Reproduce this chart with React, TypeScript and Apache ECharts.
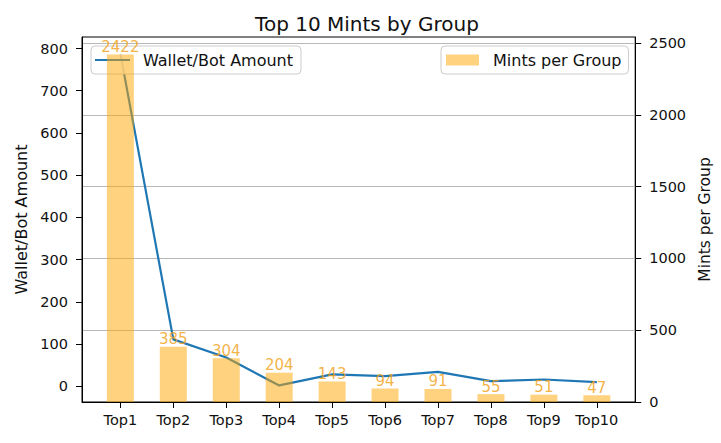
import React, { useEffect, useRef } from "react";
import * as echarts from "echarts";

const categories = ["Top1", "Top2", "Top3", "Top4", "Top5", "Top6", "Top7", "Top8", "Top9", "Top10"];
const walletBotAmount = [788, 111, 68, 2, 28, 24, 34, 12, 16, 10];
const mintsPerGroup = [2422, 385, 304, 204, 143, 94, 91, 55, 51, 47];
const leftTicks = [0, 100, 200, 300, 400, 500, 600, 700, 800];
const rightTicks = [0, 500, 1000, 1500, 2000, 2500];

const FONT = "DejaVu Sans";

export default function App() {
  const ref = useRef<HTMLDivElement>(null);
  useEffect(() => {
    if (!ref.current) return;
    const chart = echarts.init(ref.current, null, { renderer: "svg" });
    const lMin = Math.min(...walletBotAmount);
    const lMax = Math.max(...walletBotAmount);
    const lPad = (lMax - lMin) * 0.05;
    const rMax = Math.max(...mintsPerGroup) * 1.05;
    const xIdx = categories.map((_, i) => i);
    chart.setOption({
      animation: false,
      backgroundColor: "#ffffff",
      textStyle: { fontFamily: FONT },
      title: {
        text: "Top 10 Mints by Group",
        left: 362,
        textAlign: "center",
        top: 9,
        textStyle: { fontFamily: FONT, fontSize: 20, fontWeight: "normal", color: "#111" },
      },
      legend: [
        {
          data: ["Wallet/Bot Amount"],
          left: 91,
          top: 46,
          orient: "vertical",
          icon: "rect",
          itemWidth: 35,
          itemHeight: 2,
          padding: [6, 8, 6, 4],
          backgroundColor: "rgba(255,255,255,0.8)",
          borderColor: "#cccccc",
          borderWidth: 1,
          borderRadius: 4,
          z: 3,
          selectedMode: false,
          textStyle: { fontFamily: FONT, fontSize: 16, color: "#111", padding: [0, 0, 0, 8] },
        },
        {
          data: ["Mints per Group"],
          left: 441,
          top: 46,
          orient: "vertical",
          icon: "rect",
          itemWidth: 33,
          itemHeight: 11,
          padding: [6, 7, 6, 5],
          backgroundColor: "rgba(255,255,255,0.8)",
          borderColor: "#cccccc",
          borderWidth: 1,
          borderRadius: 4,
          z: 10,
          selectedMode: false,
          textStyle: { fontFamily: FONT, fontSize: 16, color: "#111", padding: [0, 0, 0, 9] },
        },
      ],
      grid: {
        left: 82,
        right: 79,
        top: 37,
        bottom: 41,
        show: true,
        borderColor: "#000",
        borderWidth: 1,
        backgroundColor: "transparent",
      },
      xAxis: {
        type: "value",
        min: -0.725,
        max: 9.725,
        splitNumber: 10,
        axisLine: { show: true, onZero: false, lineStyle: { color: "#000", width: 1 } },
        axisTick: { show: true, length: 6, lineStyle: { color: "#000" }, customValues: xIdx },
        axisLabel: {
          customValues: xIdx,
          margin: 10,
          fontFamily: FONT,
          fontSize: 14.5,
          color: "#111",
          formatter: (v: number) => (Number.isInteger(v) && categories[v]) || "",
        },
        splitLine: { show: false },
      },
      yAxis: [
        {
          type: "value",
          position: "left",
          min: lMin - lPad,
          max: lMax + lPad,
          splitNumber: 8,
          name: "Wallet/Bot Amount",
          nameLocation: "middle",
          nameRotate: 90,
          nameGap: 52,
          nameTextStyle: { fontFamily: FONT, fontSize: 16, color: "#111" },
          axisLine: { show: true, onZero: false, lineStyle: { color: "#000", width: 1 } },
          axisTick: { show: true, length: 6, lineStyle: { color: "#000" }, customValues: leftTicks },
          axisLabel: {
            customValues: leftTicks,
            margin: 14,
            fontFamily: FONT,
            fontSize: 14.5,
            color: "#111",
            formatter: (v: number) => String(v),
          },
          splitLine: { show: false },
        },
        {
          type: "value",
          position: "right",
          min: 0,
          max: rMax,
          interval: 500,
          name: "Mints per Group",
          nameLocation: "middle",
          nameRotate: 90,
          nameGap: 58,
          nameTextStyle: { fontFamily: FONT, fontSize: 15.5, color: "#111" },
          axisLine: { show: true, onZero: false, lineStyle: { color: "#000", width: 1 } },
          axisTick: { show: true, length: 6, lineStyle: { color: "#000" }, customValues: rightTicks },
          axisLabel: {
            customValues: rightTicks,
            margin: 14,
            fontFamily: FONT,
            fontSize: 14.5,
            color: "#111",
            formatter: (v: number) => String(v),
          },
          splitLine: { show: true, lineStyle: { color: "#b8b8b8", width: 1 } },
        },
      ],
      series: [
        {
          name: "Wallet/Bot Amount",
          type: "line",
          yAxisIndex: 0,
          data: walletBotAmount.map((v, i) => [i, v]),
          symbol: "none",
          lineStyle: { color: "#1f77b4", width: 2.2 },
          itemStyle: { color: "#1f77b4" },
          z: 2,
        },
        {
          name: "Mints per Group",
          type: "bar",
          yAxisIndex: 1,
          data: mintsPerGroup.map((v, i) => [i, v]),
          barWidth: 27,
          itemStyle: { color: "rgba(255,165,0,0.5)" },
          label: {
            show: true,
            position: "top",
            distance: 0,
            fontFamily: FONT,
            fontSize: 15,
            color: "rgba(240,160,20,0.8)",
            formatter: (p: any) => String(p.value[1]),
          },
          z: 5,
        },
      ],
    });
    return () => chart.dispose();
  }, []);
  return (
    <div
      ref={ref}
      style={{ position: "fixed", left: 0, top: 0, width: 721, height: 443, background: "#fff" }}
    />
  );
}
